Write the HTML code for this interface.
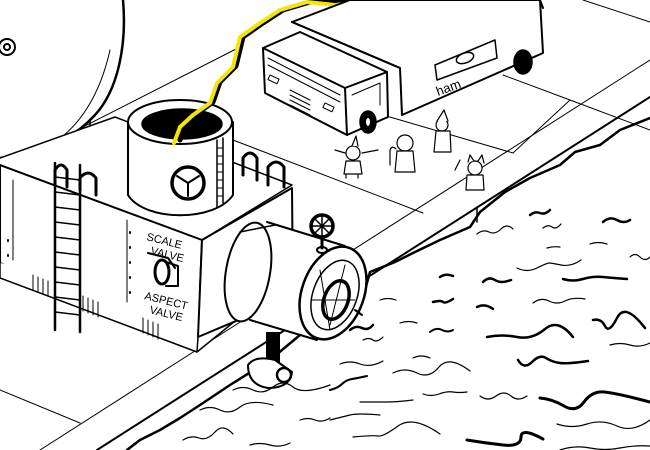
<!DOCTYPE html>
<html><head><style>html,body{margin:0;padding:0;background:#fff}svg{display:block}</style></head>
<body>
<svg width="650" height="450" viewBox="0 0 650 450" xmlns="http://www.w3.org/2000/svg" fill="none" stroke="#000" stroke-width="1.5" stroke-linejoin="round" stroke-linecap="round">
<rect width="650" height="450" fill="#fff" stroke="none"/>
<!-- ground lines -->
<g stroke-width="1">
<path d="M77 130 L240 47"/>
<path d="M233 140 L423 213"/>
<path d="M383 115 L513 153 L570 100"/>
<path d="M503 75 L570 100 L650 130"/>
<path d="M583 0 L650 22"/>
<path d="M650 60 L40 450"/>
<path d="M0 390 L80 423"/>
</g>
<!-- quay edge -->
<path d="M650 97 L97 450" stroke-width="2"/>
<path d="M477 207 L477 222" stroke-width="1.5"/>
<path d="M650 118 L620 130 L600 145 L575 152 L560 165 L530 178 L505 192 L480 212 L470 227 L440 240 L415 252 L395 262 L370 272 L363 297 L340 310 L300 335 L270 360 L230 385 L200 405 L180 418 L160 430 L140 440 L127 450" stroke-width="2.5"/>
<!-- big tank -->
<path d="M123 0 C127 45 118 90 95 115 C72 140 40 155 0 158" stroke-width="2.5"/>
<path d="M110 50 C100 95 80 125 55 142" stroke-width="1"/>
<path d="M90 120 L90 150" stroke-width="1.5"/>
<circle cx="7" cy="47" r="8" stroke-width="2"/>
<circle cx="7" cy="47" r="3" stroke-width="2"/>
<!-- box top -->
<path d="M0 158 L115 117 L292 185 L202 240 L0 165" fill="#fff" stroke-width="1.5"/>
<!-- box left face -->
<path d="M0 165 L202 240 L198 337 L0 263 Z" fill="#fff" stroke-width="2"/>
<path d="M0 263 L0 278 L197 352 L240 317 L240 300" fill="#fff" stroke-width="1.5"/>
<path d="M198 337 L197 352" stroke-width="1.5"/>
<path d="M127 220 L127 302" stroke-width="1"/>
<path d="M13 180 L13 260" stroke-width="1"/>
<g stroke-width="2"><path d="M130 232 l0 1 M130 247 l0 1 M130 262 l0 1 M130 277 l0 1 M130 292 l0 1 M8 240 l0 1 M8 255 l0 1"/></g>
<g stroke-width="1"><path d="M33 275 L33 290 M38 277 L38 292 M43 279 L43 294 M48 281 L48 296 M83 296 L83 311 M88 298 L88 313 M93 300 L93 315 M98 302 L98 317 M143 318 L143 333 M148 320 L148 335 M153 322 L153 337 M158 324 L158 339"/></g>
<!-- box front face -->
<path d="M202 240 L292 188 L293 297 L198 337 Z" fill="#fff" stroke-width="2"/>
<g font-family="Liberation Sans, sans-serif" font-size="11" fill="#000" stroke="none">
<text x="146" y="240" transform="rotate(14 146 240)">SCALE</text>
<text x="150" y="254" transform="rotate(14 150 254)">VALVE</text>
<text x="144" y="299" transform="rotate(14 144 299)">ASPECT</text>
<text x="149" y="313" transform="rotate(14 149 313)">VALVE</text>
</g>
<path d="M148 253 L168 258 L175 268" stroke-width="2"/>
<ellipse cx="162" cy="272" rx="7" ry="12" stroke-width="3"/>
<path d="M166 262 L178 266 L178 286 L166 286" stroke-width="2"/>
<!-- left ladder & hoops -->
<path d="M55 163 L55 330 M80 165 L80 332" stroke-width="2.5"/>
<path d="M55 177 L80 180 M55 192 L80 195 M55 207 L80 210 M55 222 L80 225 M55 237 L80 240 M55 252 L80 255 M55 267 L80 270 M55 282 L80 285 M55 297 L80 300 M55 312 L80 315" stroke-width="1.5"/>
<path d="M55 185 L55 170 Q61 160 67 170 L67 187" stroke-width="3"/>
<path d="M80 190 L80 178 Q88 168 96 178 L96 195" stroke-width="3"/>
<path d="M243 175 L243 158 Q250 148 257 158 L257 180" stroke-width="3"/>
<path d="M268 185 L268 167 Q276 157 284 167 L284 187" stroke-width="3"/>
<!-- turret cylinder -->
<path d="M128 122 L128 195 C145 222 215 222 233 195 L233 122" fill="#fff" stroke-width="2"/>
<ellipse cx="180" cy="122" rx="52" ry="22" fill="#fff" stroke-width="2"/>
<ellipse cx="182" cy="124" rx="40" ry="15" fill="#000"/>
<circle cx="188" cy="183" r="16" stroke-width="3.5"/>
<path d="M188 183 L188 196 M188 183 L177 176 M188 183 L199 176" stroke-width="2"/>
<path d="M217 140 L217 207 M223 138 L223 203" stroke-width="1.5"/>
<path d="M217 148 L223 148 M217 156 L223 156 M217 164 L223 164 M217 172 L223 172 M217 180 L223 180 M217 188 L223 188 M217 196 L223 196" stroke-width="1"/>
<!-- lightning -->
<path d="M180 140 L186 125 L198 113 L213 102 L220 82 L236 66 L243 37 L263 23 L283 10 L310 2 L340 2 L370 0" stroke="#000" stroke-width="5"/>
<path d="M174 143 L180 127 L193 115 L210 103 L217 83 L233 67 L240 37 L260 23 L280 10 L307 2 L335 5 L360 2 L390 2" stroke="#f5e600" stroke-width="4"/>
<!-- barrel -->
<path d="M267 222 L345 245 L330 345 L250 320 Z" fill="#fff" stroke="none"/>
<path d="M267 222 L345 246" stroke-width="2"/>
<path d="M250 320 L317 340" stroke-width="2"/>
<ellipse cx="248" cy="272" rx="22" ry="50" transform="rotate(10 248 272)" fill="#fff" stroke-width="2"/>
<path d="M240 232 L275 225" stroke-width="1.5"/>
<ellipse cx="333" cy="293" rx="31" ry="48" transform="rotate(20 333 293)" fill="#fff" stroke-width="2.5"/>
<ellipse cx="335" cy="295" rx="22" ry="36" transform="rotate(20 335 295)" stroke-width="1.5"/>
<ellipse cx="336" cy="300" rx="12" ry="20" transform="rotate(20 336 300)" stroke-width="3.5"/>
<path d="M320 270 L330 330 M345 265 L330 325 M312 300 L355 300" stroke-width="1"/>
<circle cx="322" cy="226" r="11" stroke-width="3.5"/>
<path d="M322 215 L322 237 M311 226 L333 226 M314 218 L330 234 M330 218 L314 234" stroke-width="1.5"/>
<path d="M322 237 L322 248" stroke-width="3"/>
<ellipse cx="322" cy="250" rx="5" ry="3" stroke-width="2"/>
<path d="M355 310 L362 315" stroke-width="2"/>
<rect x="266" y="332" width="14" height="38" fill="#000" stroke="none"/>
<path d="M248 365 Q255 355 275 360 L292 372 Q290 388 268 388 Q248 385 248 365 Z" fill="#fff" stroke-width="2"/>
<ellipse cx="284" cy="375" rx="7" ry="7" stroke-width="2.5"/>
<!-- truck body -->
<path d="M292 22 L350 0 L540 0 L543 53 L402 115 L400 68 Z" fill="#fff" stroke-width="2"/>
<path d="M292 22 L400 68" stroke-width="2"/>
<path d="M540 0 L543 8" stroke-width="2"/>
<path d="M435 65 L495 40 L497 58 L437 80 Z" stroke-width="1.5"/>
<ellipse cx="465" cy="58" rx="9" ry="5" transform="rotate(-20 465 58)" stroke-width="1.5"/>
<text x="438" y="96" font-family="Liberation Sans, sans-serif" font-size="13" fill="#000" stroke="none" transform="rotate(-20 438 96)">ham</text>
<ellipse cx="523" cy="62" rx="9" ry="12" fill="#000"/>
<!-- truck cab -->
<path d="M263 48 L300 32 L387 72 L388 117 L347 135 L265 93 Z" fill="#fff" stroke-width="2"/>
<path d="M263 48 L345 88 L387 72 M345 88 L347 135" stroke-width="2"/>
<path d="M268 58 L340 95 M268 65 L340 102" stroke-width="1"/>
<rect x="270" y="75" width="10" height="5" transform="rotate(25 270 75)" stroke-width="1"/>
<rect x="325" y="103" width="10" height="5" transform="rotate(25 325 103)" stroke-width="1"/>
<path d="M290 90 L310 100 M290 95 L310 105 M290 100 L310 110 M290 105 L310 115" stroke-width="1"/>
<path d="M352 95 L380 83 L380 105" stroke-width="1"/>
<ellipse cx="368" cy="122" rx="8" ry="11" fill="#000"/>
<ellipse cx="368" cy="122" rx="2" ry="4" fill="#fff" stroke="none"/>
<!-- little figures -->
<g stroke-width="1.2" fill="#fff">
<path d="M335 150 L345 153 M362 153 L378 150"/>
<circle cx="353" cy="153" r="7"/><path d="M346 161 L360 161 L362 174 L344 174 Z"/><path d="M352 146 L356 136 L358 146"/>
<path d="M346 175 L346 178 M358 175 L358 178"/>
<circle cx="405" cy="143" r="8"/><path d="M397 151 L413 151 L415 172 L395 172 Z"/><path d="M390 165 L390 150 Q392 145 396 149"/>
<circle cx="442" cy="125" r="6"/><path d="M436 131 L450 131 L451 152 L434 152 Z"/><path d="M437 121 L444 110 L448 121"/>
<circle cx="475" cy="168" r="7"/><path d="M467 175 L483 175 L484 190 L466 190 Z"/><path d="M468 162 L470 155 L474 161 M478 161 L482 155 L484 163"/><path d="M455 170 L460 160"/>
</g>
<!-- water -->
<g stroke-width="1.2">
<path d="M477 234 q6 -5 12 -2 t12 -3 t12 0"/>
<path d="M530 215 q5 -4 10 -2 t10 -3" stroke-width="2.5"/>
<path d="M603 222 q7 -6 14 -2 t13 0" stroke-width="2.5"/>
<path d="M630 257 q5 -5 10 0 t10 0"/>
<path d="M543 228 q5 -4 9 -1 t9 -3"/>
<path d="M590 244 q8 -3 17 0"/>
<path d="M547 248 q6 -2 13 -1"/>
<path d="M517 268 q10 5 20 0 t12 -5 t12 2 t20 -5"/>
<path d="M563 279 q10 3 20 0 t20 -2 t24 2" stroke-width="2.5"/>
<path d="M483 282 q6 -6 12 -2 t16 0" stroke-width="2.5"/>
<path d="M440 277 q6 -4 13 -1" stroke-width="2.5"/>
<path d="M533 303 q8 -6 16 -2 t16 0 t20 -2"/>
<path d="M477 307 q8 -4 16 2" stroke-width="2.5"/>
<path d="M433 302 q8 -2 10 0 t10 -3" stroke-width="2.5"/>
<path d="M593 320 q8 -2 12 6 t12 -8 t28 10" stroke-width="2.5"/>
<path d="M487 337 q15 -3 30 0 t28 -8 t28 8" stroke-width="2.5"/>
<path d="M400 323 q8 -3 17 0"/>
<path d="M430 332 q6 -5 12 -2 t11 0" stroke-width="2"/>
<path d="M350 330 q6 -5 12 -2 t11 -3" stroke-width="2.5"/>
<path d="M363 340 q6 -3 10 0 t10 -3"/>
<path d="M518 360 q6 10 14 2 t14 -4 t14 5 t28 -2" stroke-width="2.5"/>
<path d="M413 358 q8 -4 17 0"/>
<path d="M393 373 q12 -6 24 0 t22 -6 t31 4"/>
<path d="M340 364 q10 -4 20 0 t23 -3"/>
<path d="M330 390 q8 -2 12 -6 t10 -5 t15 -3" stroke-width="2"/>
<path d="M540 398 q12 1 24 8 t20 -4 t20 -10 t46 10" stroke-width="3"/>
<path d="M480 396 q8 6 16 0 t15 0 t16 0"/>
<path d="M423 394 q8 3 16 0 t14 -2 t14 0"/>
<path d="M360 402 q12 0 25 0 t28 -2"/>
<path d="M557 424 q15 5 30 0 t30 2 t33 -6"/>
<path d="M467 440 q18 3 36 5 t18 -8 t22 2" stroke-width="3"/>
<path d="M353 437 q20 -2 25 -1 t20 -10 t42 8"/>
<path d="M330 420 q12 -3 20 -5 t30 0"/>
<path d="M233 390 q10 -5 20 0 t20 -3 t20 0 t37 -2"/>
<path d="M200 410 q10 -5 20 0 t20 -3 t33 -2"/>
<path d="M183 440 q8 -5 16 -2 t16 -6 t18 2"/>
<path d="M300 420 q8 -3 15 0 t15 -2"/>
<path d="M560 450 q15 -5 30 -2 t30 0 t30 -2"/>
<path d="M250 445 q10 -3 20 0 t20 -2"/>
<path d="M610 345 q10 -3 20 0 t20 -2"/>
<path d="M380 300 q8 -3 16 0"/>
</g>
</svg>
</body></html>
